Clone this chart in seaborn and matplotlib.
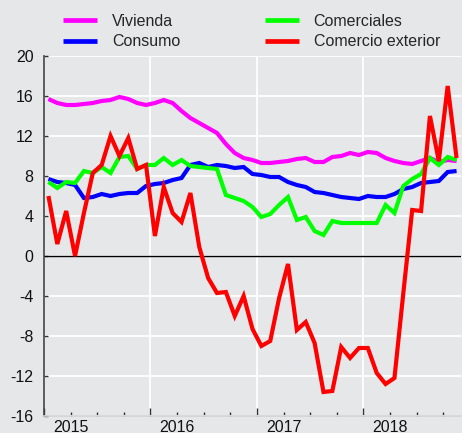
import numpy as np
import pandas as pd
import matplotlib
matplotlib.use('Agg')
import matplotlib.pyplot as plt
import seaborn as sns
from matplotlib.ticker import FixedLocator, FixedFormatter, NullFormatter

# ---------------- data ----------------
fechas = pd.date_range('2015-01-01', '2018-11-01', freq='MS')

vivienda = [15.7, 15.3, 15.1, 15.1, 15.2, 15.3, 15.5, 15.6, 15.9, 15.7, 15.3, 15.1,
            15.3, 15.6, 15.3, 14.5, 13.8, 13.3, 12.8, 12.3, 11.2, 10.3, 9.8, 9.6,
            9.3, 9.3, 9.4, 9.5, 9.7, 9.8, 9.4, 9.4, 9.9, 10.0, 10.3, 10.1,
            10.4, 10.3, 9.8, 9.5, 9.3, 9.2, 9.5, 9.8, 9.4, 9.6, 9.5]
consumo = [7.7, 7.4, 7.3, 7.1, 5.8, 5.9, 6.2, 6.0, 6.2, 6.3, 6.3, 7.0,
           7.2, 7.3, 7.6, 7.8, 9.1, 9.3, 8.9, 9.1, 9.0, 8.8, 8.9, 8.2,
           8.1, 7.9, 7.9, 7.4, 7.1, 6.9, 6.4, 6.3, 6.1, 5.9, 5.8, 5.7,
           6.0, 5.9, 5.9, 6.2, 6.7, 6.9, 7.3, 7.4, 7.5, 8.4, 8.5]
comerciales = [7.4, 6.8, 7.4, 7.3, 8.5, 8.3, 8.9, 8.3, 9.9, 10.0, 8.7, 9.1,
               9.1, 9.8, 9.1, 9.6, 9.0, 8.9, 8.8, 8.7, 6.1, 5.8, 5.5, 4.9,
               3.9, 4.2, 5.1, 5.9, 3.6, 3.9, 2.5, 2.1, 3.5, 3.3, 3.3, 3.3,
               3.3, 3.3, 5.1, 4.3, 7.0, 7.7, 8.2, 9.8, 9.1, 9.9, 9.6]
comercio_exterior = [6.0, 1.2, 4.5, 0.0, 4.3, 8.3, 9.1, 12.0, 10.0, 11.8, 8.7, 9.1,
                     2.0, 6.9, 4.3, 3.4, 6.3, 0.9, -2.2, -3.7, -3.6, -6.0, -4.0, -7.3,
                     -9.0, -8.5, -4.2, -0.8, -7.4, -6.6, -8.7, -13.6, -13.5, -9.1, -10.2, -9.2,
                     -9.2, -11.7, -12.8, -12.2, -3.7, 4.6, 4.5, 14.0, 9.5, 17.0, 9.8]

series = ['Vivienda', 'Consumo', 'Comerciales', 'Comercio exterior']
colores = ['#ff00ff', '#0000ff', '#00ff00', '#ff0000']
anios = ['2015', '2016', '2017', '2018']
yticks = [-16, -12, -8, -4, 0, 4, 8, 12, 16, 20]

# ---------------- frame ----------------
wide = pd.DataFrame({'fecha': fechas,
                     'Vivienda': vivienda,
                     'Consumo': consumo,
                     'Comerciales': comerciales,
                     'Comercio exterior': comercio_exterior})
wide['mes'] = (wide['fecha'].dt.year - 2015) * 12 + (wide['fecha'].dt.month - 1) + 0.5
df = wide.melt(id_vars=['fecha', 'mes'], value_vars=series,
               var_name='serie', value_name='valor')

# ---------------- style ----------------
bg = '#e6e7e9'
sns.set_theme(style='darkgrid', rc={'axes.facecolor': bg,
                                    'figure.facecolor': bg,
                                    'grid.color': 'white',
                                    'grid.linewidth': 1.3})
plt.rcParams['font.family'] = ['Liberation Sans', 'DejaVu Sans']

fig = plt.figure(figsize=(4.62, 4.33), dpi=100)
ax = fig.add_axes([44 / 462, 1 - 416 / 433, (461 - 44) / 462, 360 / 433])

ax.axhline(0, color='black', lw=1.0, zorder=1.6)

sns.lineplot(data=df, x='mes', y='valor', hue='serie', hue_order=series,
             palette=dict(zip(series, colores)), linewidth=3.0, ax=ax,
             solid_joinstyle='miter', solid_capstyle='butt', zorder=3)

ax.set_xlim(0, 47)
ax.set_ylim(-16, 20)
ax.set_xlabel('')
ax.set_ylabel('')

ax.set_yticks(yticks)
ax.set_yticklabels([str(v) for v in yticks])

ax.xaxis.set_major_locator(FixedLocator([0, 12, 24, 36]))
ax.xaxis.set_major_formatter(NullFormatter())
minor_pos = [3, 6, 9, 15, 18, 21, 27, 30, 33, 39, 42, 45]
minor_lab = ['' for _ in minor_pos]
for k, a in enumerate(anios):
    minor_lab[minor_pos.index(3 + 12 * k)] = a
ax.xaxis.set_minor_locator(FixedLocator(minor_pos))
ax.xaxis.set_minor_formatter(FixedFormatter(minor_lab))

ax.grid(True, which='major', axis='both', color='white', lw=1.3)
ax.grid(False, which='minor')

ax.tick_params(axis='x', which='major', direction='in', length=6, width=1,
               color='#333333', bottom=True, pad=3.5)
ax.tick_params(axis='x', which='minor', direction='in', length=3, width=1,
               color='#333333', bottom=True, pad=3.0, labelsize=11.5,
               labelcolor='#111111')
ax.tick_params(axis='y', which='major', direction='in', length=3, width=1,
               color='#333333', left=True, pad=7.5, labelsize=11.5,
               labelcolor='#111111')

for s in ['top', 'right']:
    ax.spines[s].set_visible(False)
ax.spines['left'].set_visible(True)
ax.spines['left'].set_color('#444444')
ax.spines['left'].set_linewidth(1.2)
ax.spines['bottom'].set_visible(True)
ax.spines['bottom'].set_color('#d2d3d5')
ax.spines['bottom'].set_linewidth(1.2)

handles, labels = ax.get_legend_handles_labels()
leg = ax.legend(handles, labels, ncol=2, frameon=False, loc='upper left',
                bbox_to_anchor=(63 / 462, 1 - 14 / 433),
                bbox_transform=fig.transFigure, fontsize=11.5,
                handlelength=2.14, handletextpad=0.92, columnspacing=5.3,
                labelspacing=0.32, borderpad=0, borderaxespad=0)
for ln in leg.get_lines():
    ln.set_linewidth(3.4)
    ln.set_solid_capstyle('butt')

fig.savefig('out.png', dpi=100, facecolor=bg)
